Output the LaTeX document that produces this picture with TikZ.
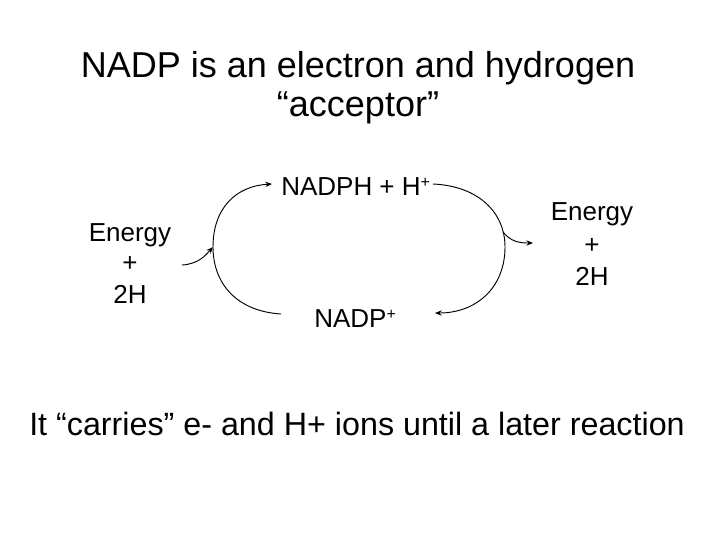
\documentclass[tikz,border=0pt]{standalone}
\usepackage{fontspec}
\setmainfont{Liberation Sans}
\usetikzlibrary{arrows.meta}
\newcommand{\supplus}{\raisebox{0.6ex}{\fontsize{12}{12}\selectfont +}}
\begin{document}
\begin{tikzpicture}[x=0.75pt,y=-0.75pt,
  title/.style={font=\fontsize{27}{32}\selectfont, align=center, inner sep=0},
  bottom/.style={font=\fontsize{24.2}{29}\selectfont, align=center, inner sep=0},
  lbl/.style={font=\fontsize{19.5}{23}\selectfont, inner sep=0, align=center},
  conn/.style={line width=0.7pt, -{Stealth[length=5pt,width=4pt]}}]
\useasboundingbox (0,0) rectangle (720,540);
\node[title] (t1) at (358,68) {NADP is an electron and hydrogen};
\node[title] (t2) at (358,108) {“acceptor”};
\node[lbl,anchor=west] (nadph) at (281,187) {NADPH + H\supplus};
\node[lbl,anchor=west] (nadp) at (314,319) {NADP\supplus};
\node[lbl] (el1) at (130,235) {Energy};
\node[lbl] (el2) at (130,264) {+};
\node[lbl] (el3) at (130,294) {2H};
\node[lbl] (er1) at (592,214) {Energy};
\node[lbl] (er2) at (592,246) {+};
\node[lbl] (er3) at (592,276) {2H};
\node[bottom] (b) at (357,424) {It “carries” e- and H+ ions until a later reaction};
\coordinate (la) at (281,314);
\coordinate (lb) at (272,184);
\coordinate (lm) at (213,247);
\coordinate (ia) at (182,265);
\coordinate (ra) at (433,184);
\coordinate (rb) at (435,313);
\coordinate (rm) at (505,247);
\coordinate (oa) at (503,232);
\coordinate (ob) at (533,243);
\draw[conn] (la) .. controls (235,311) and (213,282) .. (lm) .. controls (213,208) and (236,186) .. (lb);
\draw[conn] (ia) .. controls (198,264) and (205,256) .. (lm);
\draw[conn] (ra) .. controls (478,186) and (505,212) .. (rm) .. controls (505,288) and (476,313) .. (rb);
\draw[conn] (oa) .. controls (511,242) and (520,243) .. (ob);
\end{tikzpicture}
\end{document}
